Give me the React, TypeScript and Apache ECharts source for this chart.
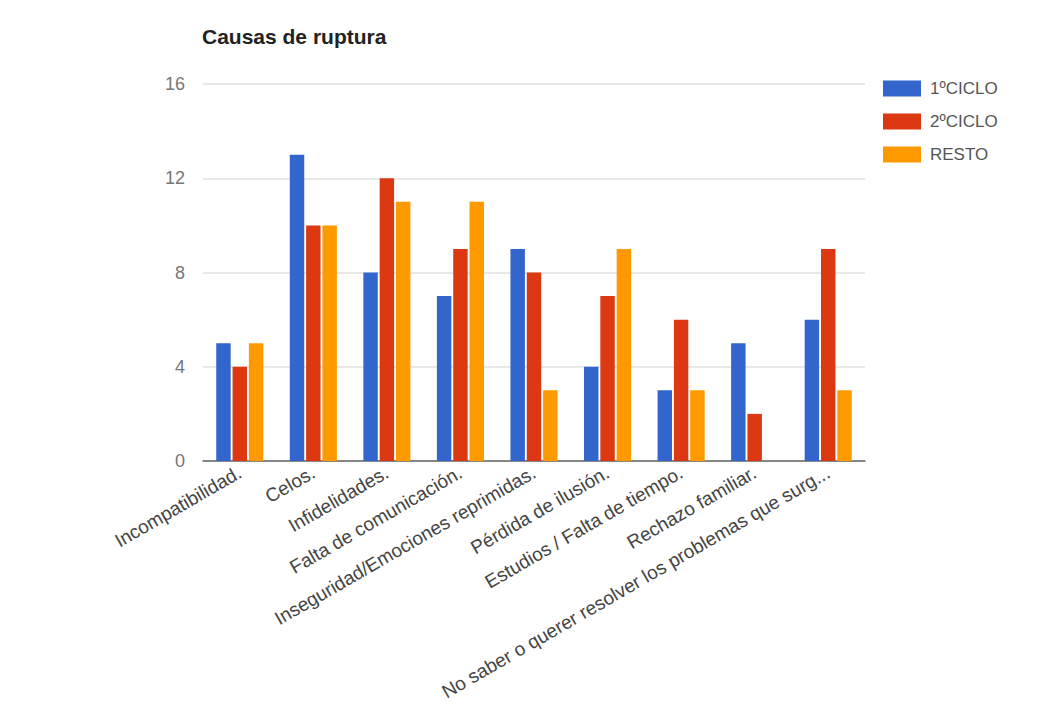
import React, { useEffect, useRef } from "react";
import * as echarts from "echarts";

const title = "Causas de ruptura";
const categories = [
  "Incompatibilidad.",
  "Celos.",
  "Infidelidades.",
  "Falta de comunicación.",
  "Inseguridad/Emociones reprimidas.",
  "Pérdida de ilusión.",
  "Estudios / Falta de tiempo.",
  "Rechazo familiar.",
  "No saber o querer resolver los problemas que surg...",
];
const seriesNames = ["1ºCICLO", "2ºCICLO", "RESTO"];
const ciclo1 = [5, 13, 8, 7, 9, 4, 3, 5, 6];
const ciclo2 = [4, 10, 12, 9, 8, 7, 6, 2, 9];
const resto = [5, 10, 11, 11, 3, 9, 3, 0, 3];
const colors = ["#3366cc", "#dc3912", "#ff9900"];
const yTicks = [0, 4, 8, 12, 16];

export default function App() {
  const ref = useRef<HTMLDivElement>(null);
  useEffect(() => {
    document.body.style.margin = "0";
    const chart = echarts.init(ref.current!, undefined, { renderer: "svg" });
    const font = "'Liberation Sans', Arial, sans-serif";
    const data = [ciclo1, ciclo2, resto];
    chart.setOption({
      animation: false,
      backgroundColor: "#ffffff",
      color: colors,
      title: {
        text: title,
        left: 197,
        top: 21,
        textStyle: { fontFamily: font, fontSize: 21, fontWeight: "bold", color: "#222" },
      },
      legend: {
        orient: "vertical",
        left: 878,
        top: 75,
        itemWidth: 38,
        itemHeight: 16,
        itemGap: 16,
        icon: "rect",
        textStyle: { fontFamily: font, fontSize: 17, color: "#555", padding: [0, 0, 0, 4] },
        data: seriesNames,
      },
      grid: { left: 203, right: 172, top: 84, bottom: 254, containLabel: false },
      xAxis: {
        type: "category",
        data: categories,
        axisLine: { lineStyle: { color: "#666", width: 1.5 } },
        axisTick: { show: false },
        axisLabel: {
          rotate: 30,
          interval: 0,
          margin: 10,
          fontFamily: font,
          fontSize: 19,
          color: "#444",
        },
      },
      yAxis: {
        type: "value",
        min: yTicks[0],
        max: yTicks[yTicks.length - 1],
        interval: 4,
        axisLine: { show: false },
        axisTick: { show: false },
        splitLine: { lineStyle: { color: "#e0e0e0", width: 1.5 } },
        axisLabel: { fontFamily: font, fontSize: 18, color: "#777", margin: 18 },
      },
      series: seriesNames.map((name, i) => ({
        name,
        type: "bar",
        data: data[i],
        barGap: "13%",
        barCategoryGap: "36%",
      })),
    });
    return () => chart.dispose();
  }, []);
  return <div ref={ref} style={{ width: 1037, height: 715 }} />;
}
